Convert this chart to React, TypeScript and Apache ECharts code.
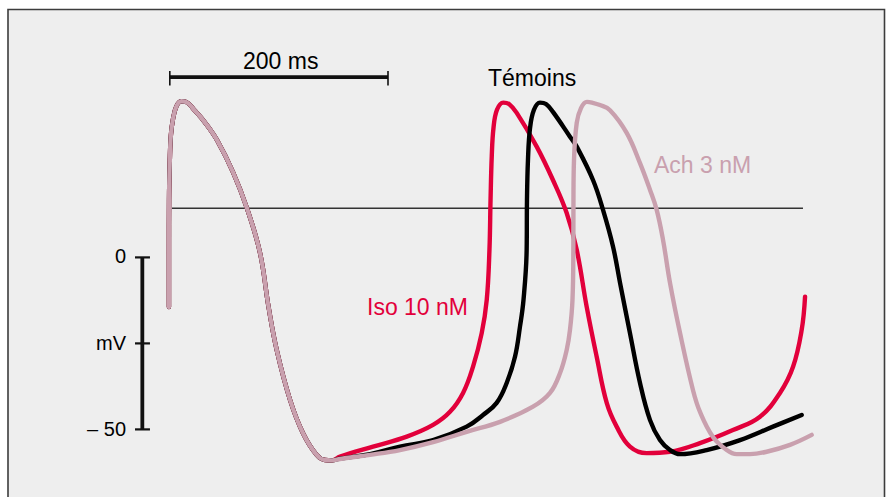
import React, { useEffect, useRef } from "react";
import * as echarts from "echarts";

// time in ms, potential in mV
const firstAP: [number, number][] = [
  [1.2, -14.4], [1.2, 2.2], [1.3, 16.7], [2.0, 28.3], [3.0, 35.6], [4.9, 40.2], [7.9, 43.8],
  [12.3, 45.4], [17.0, 45.2], [24.0, 43.0], [34.3, 39.2], [45.3, 34.1], [59.9, 24.8],
  [72.7, 14.3], [84.7, 1.3], [92.5, -14.4], [100, -26.9], [112.2, -41.4], [124.1, -51.1],
  [136.6, -57.4], [144.3, -58.9], [150.7, -59.0],
];

const achTail: [number, number][] = [
  [158, -58.6], [185.5, -57.4], [213, -56.0], [243.3, -53.7], [274.1, -50.7], [304.7, -47.8],
  [334.9, -43.4], [350.5, -39.4], [359.7, -33.6], [365.8, -26.9], [368.8, -21.1], [371.1, -12.4],
  [371.9, 2.2], [372.0, 16.7], [372.5, 28.3], [375, 39.1], [378.9, 43.4], [384.4, 45.2],
  [389, 45.0], [396.3, 44.3], [405.5, 42.8], [420.8, 36.2], [433, 27.4], [442.2, 19.6],
  [448.3, 13.8], [454.1, 5.1], [460.5, -7.4], [469.7, -22.0], [481.6, -38.6], [488, -44.9],
  [499.9, -52.2], [512.5, -56.0], [521.6, -57.2], [533.8, -57.2], [549.1, -56.5], [570.5, -54.5],
  [590.4, -51.6],
];

const temoinsTail: [number, number][] = [
  [158, -58.5], [185.5, -57.2], [213, -55.0], [243.3, -53.1], [274.1, -49.2], [289.1, -45.8],
  [301.6, -42.3], [310.8, -36.5], [318.4, -28.9], [323, -20.1], [326.2, -12.4], [329.1, 2.2],
  [329.4, 16.7], [330.3, 28.3], [332.2, 37.6], [335.8, 42.9], [341.3, 45.0], [346.8, 44.6],
  [353.2, 42.3], [368.8, 35.1], [375, 32.2], [389.9, 22.5], [399.1, 13.8], [408.3, 3.1],
  [414.7, -7.4], [423.8, -22.0], [433, -36.5], [442.2, -47.3], [451.3, -53.1], [460.5, -56.0],
  [469.7, -57.2], [494.1, -56.0], [524.7, -53.1], [554.9, -49.2], [581.2, -45.8],
];

const isoTail: [number, number][] = [
  [158, -57.9], [188.3, -55.0], [219.2, -52.1], [243.3, -48.7], [258.8, -44.9], [270.8, -39.4],
  [279.9, -31.8], [287.9, -22.0], [292.5, -12.4], [295, 2.2], [296, 16.7], [297.1, 29.3],
  [298.7, 37.6], [301.9, 42.9], [307.7, 45.0], [312.9, 44.6], [320, 42.0], [338.3, 32.2],
  [353.2, 22.5], [365.8, 12.9], [375, 2.2], [384.1, -14.3], [393.3, -28.9], [402.5, -42.3],
  [411.6, -49.2], [423.8, -55.0], [439.1, -56.9], [460.5, -56.5], [488, -54.0], [518.2, -50.2],
  [543, -46.3], [561.3, -39.4], [573.3, -31.8], [581.2, -21.1], [584.3, -11.4],
];

const refLine: [number, number][] = [[4, 14.3], [582.4, 14.3]];
const timeBar: [number, number][] = [[2, 52.4], [202, 52.4]];
const timeBarEnds = [2, 202];
const voltBarX = -23.2;
const voltBar: [number, number][] = [[voltBarX, 0], [voltBarX, -50]];
const voltTicks = [0, -25, -50];
const voltTickLabels = ["0", "mV", "\u2013 50"];

const RED = "#e2003b";
const PINK = "#c9a0ae";
const BLACK = "#000000";

export default function App() {
  const ref = useRef<HTMLDivElement>(null);
  useEffect(() => {
    if (!ref.current) return;
    const chart = echarts.init(ref.current, undefined, { renderer: "svg" });
    const seg = (data: [number, number][], color: string, width: number, z = 2) => ({
      type: "line",
      data,
      showSymbol: false,
      symbol: "none",
      silent: true,
      z,
      lineStyle: { color, width, cap: "round", join: "round" },
    });
    const straight = (data: [number, number][], color: string, width: number, z = 3) => ({
      ...seg(data, color, width, z),
      lineStyle: { color, width, cap: "butt" },
    });
    const tickSeries: any[] = [];
    voltTicks.forEach((v) => {
      tickSeries.push(straight([[voltBarX - 6.7, v], [voltBarX + 7, v]], "#111", 2.2));
    });
    timeBarEnds.forEach((t) => {
      tickSeries.push(straight([[t, 54.2], [t, 50.0]], "#111", 1.6));
    });
    const font = "Liberation Sans, Arial, sans-serif";
    chart.setOption({
      animation: false,
      backgroundColor: "#ffffff",
      grid: { left: 124, top: 51, width: 720, height: 430 },
      xAxis: { type: "value", min: -40, max: 620, show: false },
      yAxis: { type: "value", min: -65, max: 60, show: false },
      graphic: [
        {
          type: "rect",
          z: -10,
          shape: { x: 8, y: 9.5, width: 876.5, height: 500 },
          style: { fill: "#eeeeee", stroke: "#3c3c3c", lineWidth: 1.6 },
        },
        { type: "text", left: 243, top: 49, style: { text: "200 ms", font: `23px ${font}`, fill: "#000" } },
        { type: "text", left: 488, top: 66, style: { text: "T\u00e9moins", font: `23px ${font}`, fill: "#000" } },
        { type: "text", left: 654, top: 153, style: { text: "Ach 3 nM", font: `23px ${font}`, fill: PINK } },
        { type: "text", left: 367, top: 295, style: { text: "Iso 10 nM", font: `23px ${font}`, fill: RED } },
        ...voltTickLabels.map((t, i) => ({
          type: "text",
          right: 890 - 126,
          top: [246, 333, 419][i],
          style: { text: t, font: `20px ${font}`, fill: "#000", align: "right" },
        })),
      ],
      series: [
        straight(refLine, "#333333", 1.4, 1),
        straight(timeBar, "#111", 3.6),
        straight(voltBar, "#111", 3.8),
        ...tickSeries,
        { ...seg([...firstAP, ...isoTail], RED, 4.4, 4), smooth: 0.4 },
        { ...seg([...firstAP, ...temoinsTail], BLACK, 4.4, 5), smooth: 0.4 },
        { ...seg([...firstAP, ...achTail], PINK, 4.4, 6), smooth: 0.4 },
      ],
    });
    return () => chart.dispose();
  }, []);
  return (
    <div
      ref={ref}
      style={{ position: "fixed", left: 0, top: 0, width: 890, height: 497 }}
    />
  );
}
